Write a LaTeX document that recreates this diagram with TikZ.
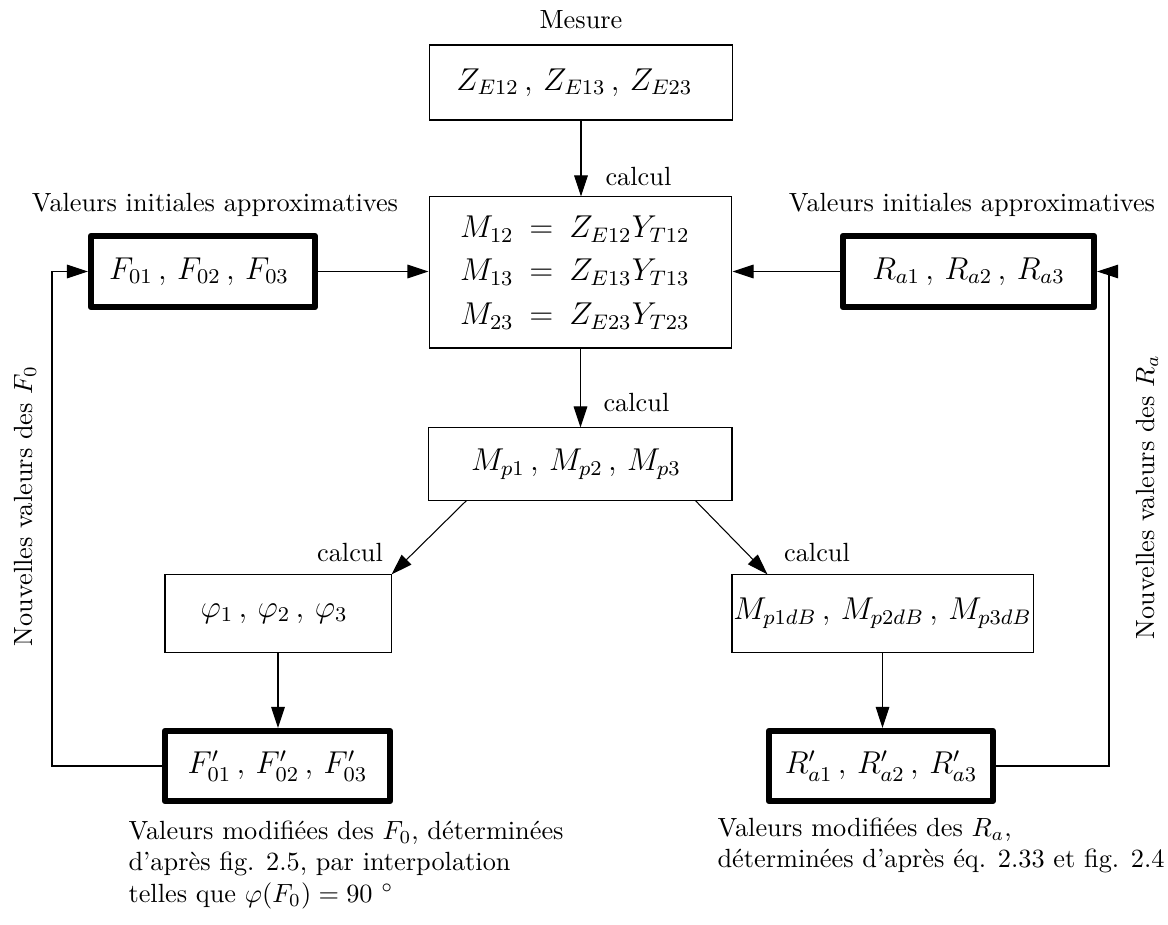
\documentclass[tikz,border=0pt]{standalone}
\usetikzlibrary{arrows.meta}
\begin{document}
\begin{tikzpicture}[x=0.38pt,y=-0.38pt,
  box/.style={draw, line width=0.4pt, inner sep=0pt, font=\large, align=center},
  thickbox/.style={draw, line width=2.4pt, line join=round, inner sep=0pt, font=\large, align=center},
  arr/.style={-{Triangle[length=8pt,width=5.2pt]}, line width=0.4pt},
  lab/.style={inner sep=0pt}]
\useasboundingbox (0,0) rectangle (1168,925);

% boxes
\node[box, minimum width=114.8pt, minimum height=28.5pt] (Z) at (581,82.5)
  {$Z_{E12}\,,\,Z_{E13}\,,\,Z_{E23}$\hspace*{5pt}};
\node[box, align=left, inner xsep=11.8pt, text width=91.5pt, minimum height=57.4pt] (M) at (580.5,272.5)
  {$M_{12}\:=\:Z_{E12}Y_{T12}$\\[2.5pt]
   $M_{13}\:=\:Z_{E13}Y_{T13}$\\[2.5pt]
   $M_{23}\:=\:Z_{E23}Y_{T23}$};
\node[thickbox, minimum width=85.1pt, minimum height=27pt] (F0) at (203,271.5)
  {$F_{01}\,,\,F_{02}\,,\,F_{03}$\hspace*{3pt}};
\node[thickbox, minimum width=95.4pt, minimum height=27pt] (Ra) at (968.5,271.5)
  {$R_{a1}\,,\,R_{a2}\,,\,R_{a3}$};
\node[box, minimum width=115.5pt, minimum height=27.4pt] (Mp) at (580,464)
  {$M_{p1}\,,\,M_{p2}\,,\,M_{p3}$\hspace*{3pt}};
\node[box, minimum width=85.9pt, minimum height=29.3pt] (phi) at (278,613.5)
  {$\varphi_1\,,\,\varphi_2\,,\,\varphi_3$\hspace*{3pt}};
\node[box, minimum width=114.4pt, minimum height=29.3pt] (MdB) at (882.5,613.5)
  {$M_{p1dB}\,,\,M_{p2dB}\,,\,M_{p3dB}$};
\node[thickbox, minimum width=85.5pt, minimum height=26.6pt] (Fp) at (277.5,766)
  {$F'_{01}\,,\,F'_{02}\,,\,F'_{03}$};
\node[thickbox, minimum width=85.1pt, minimum height=26.6pt] (Rp) at (881,766)
  {$R'_{a1}\,,\,R'_{a2}\,,\,R'_{a3}$};

% labels
\node[lab] (mes) at (581,20) {Mesure};
\node[lab, anchor=west] (c1) at (605,177) {calcul};
\node[lab, anchor=west] (c2) at (603,403) {calcul};
\node[lab] (c3) at (350,553) {calcul};
\node[lab] (c4) at (817,553) {calcul};
\node[lab] (vl) at (215,205) {Valeurs initiales approximatives};
\node[lab] (vr) at (972,205) {Valeurs initiales approximatives};
\node[lab, rotate=90] (nl) at (25,506) {Nouvelles valeurs des $F_0$};
\node[lab, rotate=90] (nr) at (1147,497) {Nouvelles valeurs des $R_a$};
\node[lab, anchor=north west, align=left] (bl) at (128,820)
  {Valeurs modifiées des $F_0$, déterminées\\
   d'après fig. 2.5, par interpolation\\
   telles que $\varphi(F_0) = 90\ {}^\circ$};
\node[lab, anchor=north west, align=left] (br) at (717,817)
  {Valeurs modifiées des $R_a$,\\
   déterminées d'après éq. 2.33 et fig. 2.4};

% connectors
\coordinate (lf) at (52,766);
\coordinate (rf) at (1109,766);
\draw[arr] (Z.south) -- (Z.south |- M.north);
\draw[arr] (F0.east) -- (F0.east -| M.west);
\draw[arr] (Ra.west) -- (Ra.west -| M.east);
\draw[arr] (M.south) -- (M.south |- Mp.north);
\draw[arr] ([xshift=14.8pt]Mp.south west) -- (phi.north east);
\draw[arr] ([xshift=-14.1pt]Mp.south east) -- ([xshift=13.7pt]MdB.north west);
\draw[arr] (phi.south) -- (phi.south |- Fp.north);
\draw[arr] (MdB.south) -- (MdB.south |- Rp.north);
\draw[arr] (Fp.west) -- (Fp.west -| lf) |- (F0.west);
\draw[arr] (Rp.east) -- (Rp.east -| rf) |- (Ra.east);
\end{tikzpicture}
\end{document}
